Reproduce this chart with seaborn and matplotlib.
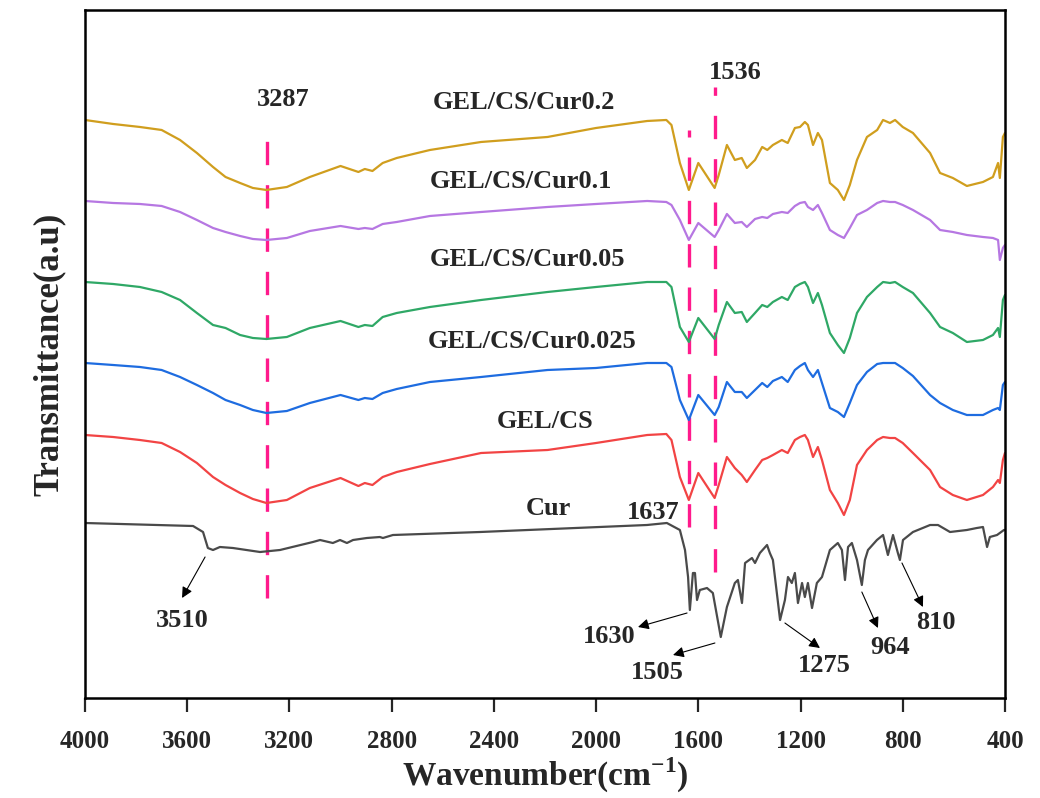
import numpy as np
import pandas as pd
import matplotlib
matplotlib.use("Agg")
import matplotlib.pyplot as plt
import seaborn as sns

# --- DATA (wavenumber in cm-1, transmittance in arbitrary offset units) ---
wn_gel = [4000, 3890, 3785, 3700, 3628, 3562, 3499, 3450, 3393, 3343,
          3290, 3210, 3120, 3000, 2930, 2905, 2875, 2835, 2780, 2650,
          2450, 2190, 2000, 1800,
          1725, 1705, 1672, 1637, 1600,
          1536, 1520, 1488, 1457, 1430, 1410, 1378, 1350, 1330, 1308,
          1273, 1250, 1222, 1202, 1183, 1171, 1151, 1132, 1116, 1085,
          1054, 1030, 1007, 979, 940, 900, 877, 850, 830, 800,
          760, 693, 654, 604, 549, 486, 447, 427, 420, 408,
          400]

t_cur02 = [578, 574, 571, 568, 558, 545, 531, 521, 515, 510,
           508, 511, 521, 532, 526, 529, 527, 535, 540, 548,
           556, 561, 570, 577,
           578, 573, 535, 508, 535,
           510, 523, 553, 538, 540, 530, 538, 551, 548, 553,
           558, 555, 570, 571, 576, 573, 553, 565, 558, 515,
           508, 498, 513, 538, 561, 568, 578, 575, 578, 571,
           565, 545, 525, 520, 512, 516, 521, 535, 520, 561,
           565]

t_cur01 = [497, 495, 494, 492, 486, 478, 470, 466, 462, 459,
           458, 460, 467, 472, 469, 470, 469, 474, 476, 482,
           486, 491, 494, 497,
           496, 493, 478, 458, 475,
           461, 468, 484, 475, 476, 471, 479, 481, 480, 484,
           486, 485, 492, 495, 496, 491, 488, 493, 485, 468,
           463, 460, 470, 483, 488, 495, 497, 496, 496, 493,
           488, 478, 468, 466, 463, 461, 460, 458, 438, 450,
           453]

t_cur005 = [416, 414, 411, 406, 398, 385, 373, 370, 363, 360,
            359, 361, 370, 377, 371, 373, 372, 381, 385, 391,
            398, 406, 411, 416,
            416, 411, 371, 356, 380,
            359, 373, 396, 385, 386, 376, 385, 393, 391, 396,
            401, 398, 411, 414, 416, 411, 395, 405, 393, 365,
            353, 345, 360, 385, 401, 411, 416, 415, 416, 411,
            405, 385, 371, 365, 356, 358, 363, 370, 361, 398,
            403]

t_cur0025 = [335, 333, 331, 328, 321, 313, 305, 298, 293, 288,
             285, 287, 295, 303, 298, 300, 299, 305, 309, 316,
             321, 328, 330, 335,
             335, 331, 298, 278, 303,
             283, 291, 316, 306, 306, 300, 308, 315, 311, 317,
             321, 316, 328, 332, 335, 328, 321, 328, 315, 290,
             286, 281, 295, 313, 326, 334, 335, 335, 335, 330,
             322, 303, 295, 288, 283, 283, 288, 290, 288, 313,
             316]

t_gelcs = [263, 261, 258, 255, 246, 235, 221, 213, 205, 199,
           195, 198, 210, 220, 212, 215, 213, 221, 226, 234,
           245, 248, 255, 263,
           264, 258, 221, 198, 225,
           200, 213, 241, 230, 223, 216, 228, 238, 240, 243,
           248, 245, 258, 261, 263, 258, 241, 251, 238, 208,
           195, 183, 198, 233, 248, 258, 261, 260, 260, 255,
           245, 228, 211, 203, 198, 203, 211, 218, 215, 238,
           245]

wn_cur = [4000, 3577, 3538, 3519, 3499, 3472, 3421, 3315, 3237, 3108,
          3080, 3030, 3002, 2975, 2951, 2897, 2846, 2834, 2795, 2454,
          1801, 1723, 1672, 1652, 1640, 1633, 1621, 1613, 1605, 1594,
          1566, 1543, 1512, 1488, 1457, 1445, 1429, 1417, 1390, 1378,
          1359, 1331, 1320, 1308, 1280, 1261, 1249, 1234, 1222, 1210,
          1194, 1183, 1171, 1155, 1136, 1116, 1085, 1054, 1038, 1026,
          1014, 999, 979, 960, 948, 936, 901, 877, 858, 838,
          819, 811, 799, 760, 693, 662, 615, 549, 510, 486,
          470, 459, 431, 404, 400]

t_cur = [175, 172, 166, 150, 148, 151, 150, 146, 148, 156,
         158, 155, 158, 155, 158, 160, 161, 160, 163, 166,
         173, 175, 168, 148, 121, 88, 125, 125, 98, 108,
         110, 105, 61, 91, 115, 118, 95, 135, 140, 135,
         145, 153, 145, 138, 78, 98, 121, 115, 125, 95,
         115, 101, 115, 90, 115, 121, 148, 155, 148, 118,
         151, 155, 138, 113, 138, 148, 158, 163, 143, 163,
         145, 138, 158, 166, 173, 173, 166, 168, 170, 171,
         151, 161, 163, 168, 168]

peak_lines = [3287, 1637, 1536]
peak_line_top = [570, 568, 611]
peak_line_bottom = [100, 171, 126]

series_names = ["GEL/CS/Cur0.2", "GEL/CS/Cur0.1", "GEL/CS/Cur0.05",
                "GEL/CS/Cur0.025", "GEL/CS", "Cur"]
series_colors = ["#D09E1E", "#B677E2", "#2FA866", "#1E6CE0", "#F24444", "#4A4A4A"]

# --- STYLE ---
sns.set_theme(style="ticks")
plt.rcParams['font.family'] = ['Liberation Serif', 'DejaVu Serif']
plt.rcParams['font.weight'] = 'bold'
plt.rcParams['mathtext.fontset'] = 'custom'
plt.rcParams['mathtext.rm'] = 'Liberation Serif:bold'
plt.rcParams['mathtext.bf'] = 'Liberation Serif:bold'

fig = plt.figure(figsize=(10.4, 7.98), dpi=100)
ax = fig.add_axes([0.0817, 0.1253, 0.8846, 0.8622])

frames = [
    pd.DataFrame({"wn": wn_gel, "T": t_cur02}),
    pd.DataFrame({"wn": wn_gel, "T": t_cur01}),
    pd.DataFrame({"wn": wn_gel, "T": t_cur005}),
    pd.DataFrame({"wn": wn_gel, "T": t_cur0025}),
    pd.DataFrame({"wn": wn_gel, "T": t_gelcs}),
    pd.DataFrame({"wn": wn_cur, "T": t_cur}),
]
for df, col in zip(frames, series_colors):
    sns.lineplot(data=df, x="wn", y="T", color=col, linewidth=1.6,
                 estimator=None, sort=False, ax=ax)

# dashed reference lines for peaks
ax.vlines(peak_lines, peak_line_bottom, peak_line_top, colors="#FF1A8C",
          linestyles=(0, (7, 6)), linewidth=2.4, zorder=1)

# peak position labels
ax.text(3225, 598, "3287", fontsize=19, ha="center", va="center")
ax.text(1457, 625, "1536", fontsize=19, ha="center", va="center")
ax.text(1777, 186, "1637", fontsize=19, ha="center", va="center")

# curve labels
label_pos = [(2282, 595), (2294, 516), (2267, 438), (2251, 356), (2200, 276), (2188, 190)]
for name, (lx, ly) in zip(series_names, label_pos):
    ax.text(lx, ly, name, fontsize=19, ha="center", va="center")

# arrow annotations on Cur spectrum
arrows = [
    ("3510", (3530, 141), (3620, 100), (3620, 78)),
    ("1630", (1644, 85), (1836, 71), (1950, 62)),
    ("1505", (1535, 55), (1699, 43), (1762, 26)),
    ("1275", (1261, 75), (1124, 50), (1108, 33)),
    ("964", (960, 106), (897, 70), (850, 51)),
    ("810", (803, 135), (721, 91), (670, 76)),
]
for txt, tail, head, pos in arrows:
    ax.annotate("", xy=head, xytext=tail,
                arrowprops=dict(arrowstyle="-|>", color="black", lw=0.8,
                                mutation_scale=16, shrinkA=0, shrinkB=0))
    ax.text(pos[0], pos[1], txt, fontsize=19, ha="center", va="center")

ax.set_xlim(4000, 400)
ax.set_ylim(0, 688)
ax.set_xticks([4000, 3600, 3200, 2800, 2400, 2000, 1600, 1200, 800, 400])
ax.set_yticks([])
ax.tick_params(axis="x", direction="out", length=10, width=1.6, pad=13,
               labelsize=18, top=False)
for s in ax.spines.values():
    s.set_visible(True)
    s.set_linewidth(1.8)
    s.set_color("black")

ax.set_xlabel(r"Wavenumber(cm$^{\mathbf{-1}}$)", fontsize=24, fontweight="bold", labelpad=2)
ax.set_ylabel("Transmittance(a.u)", fontsize=25, fontweight="bold", labelpad=14)

fig.savefig("out.png", dpi=100)
